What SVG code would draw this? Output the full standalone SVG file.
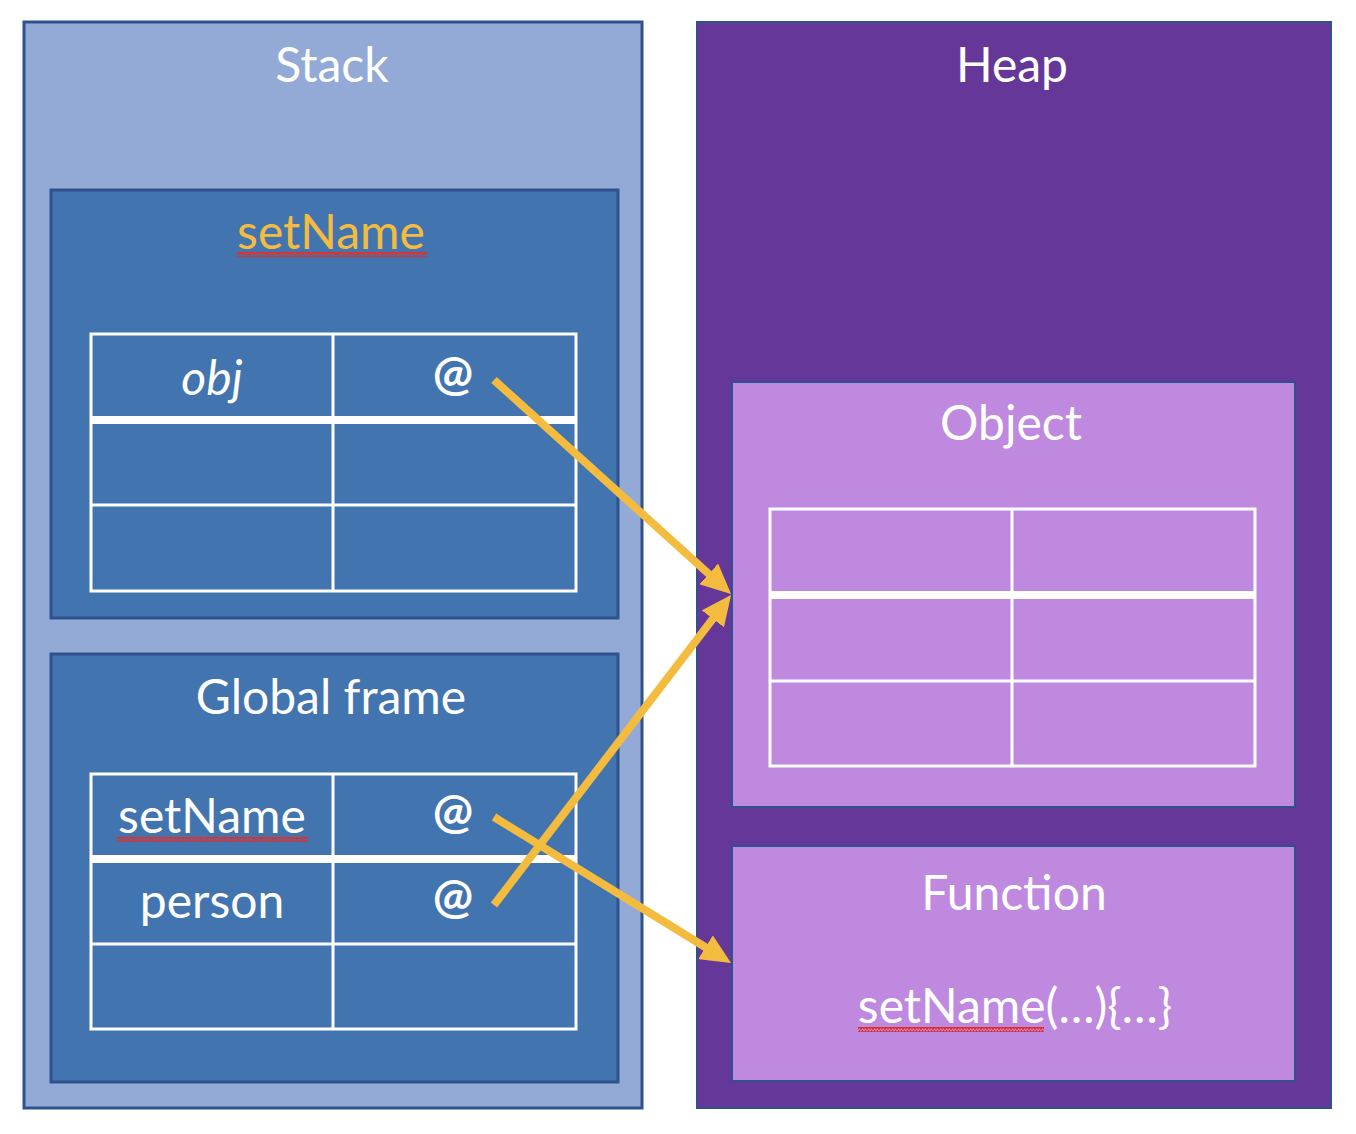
<svg xmlns="http://www.w3.org/2000/svg" width="1356" height="1134" viewBox="0 0 1356 1134">
  <style>
    .lbl { font-family: Lato, "Liberation Sans", sans-serif; font-size: 48px; fill: #ffffff; text-anchor: middle; }
    .frame { fill: #4274B0; stroke: #2F528F; stroke-width: 3; }
    .heapbox { fill: #BE89DF; stroke: #2F528F; stroke-width: 2; }
    .grid { fill: none; stroke: #ffffff; stroke-width: 3; }
    .thick { stroke: #ffffff; stroke-width: 8; }
    .ref { fill: none; stroke: #F4BC3F; stroke-width: 8; marker-end: url(#head); }
    .squig { fill: url(#squiggle); }
  </style>
  <defs>
    <marker id="head" viewBox="0 0 30 28" refX="10" refY="14" markerWidth="30" markerHeight="28" markerUnits="userSpaceOnUse" orient="auto">
      <path d="M0,0 L30,14 L0,28 z" fill="#F4BC3F"/>
    </marker>
    <pattern id="squiggle" width="6" height="5" patternUnits="userSpaceOnUse">
      <polyline points="0,4 1.5,1 3,4 4.5,1 6,4" fill="none" stroke="#E0302A" stroke-width="1.7"/>
    </pattern>
  </defs>

  <!-- Stack column -->
  <g id="stack">
    <rect x="24" y="22" width="618" height="1086" fill="#93AAD7" stroke="#2F528F" stroke-width="3"/>
    <text class="lbl" x="332" y="82">Stack</text>
  </g>

  <!-- Heap column -->
  <g id="heap">
    <rect x="697" y="22" width="634" height="1086" fill="#653799" stroke="#2F528F" stroke-width="2"/>
    <text class="lbl" x="1012" y="82">Heap</text>
  </g>

  <!-- setName call frame -->
  <g id="frame-setName">
    <rect class="frame" x="51" y="190" width="567" height="428"/>
    <text class="lbl" x="331" y="249" style="fill:#F4BC3F">setName</text>
    <rect class="squig" x="237" y="252" width="190" height="5"/>
    <rect class="grid" x="91" y="334" width="485" height="257"/>
    <line class="grid" x1="333" y1="334" x2="333" y2="591"/>
    <line class="thick" x1="91" y1="420" x2="576" y2="420"/>
    <line class="grid" x1="91" y1="505" x2="576" y2="505"/>
    <text class="lbl" x="212" y="395" font-style="italic">obj</text>
    <text class="lbl" x="453" y="390" font-weight="bold">@</text>
  </g>

  <!-- Global frame -->
  <g id="frame-global">
    <rect class="frame" x="51" y="654" width="567" height="428"/>
    <text class="lbl" x="331" y="714">Global frame</text>
    <rect class="grid" x="91" y="774" width="485" height="255"/>
    <line class="grid" x1="333" y1="774" x2="333" y2="1029"/>
    <line class="thick" x1="91" y1="859" x2="576" y2="859"/>
    <line class="grid" x1="91" y1="944" x2="576" y2="944"/>
    <text class="lbl" x="212" y="833">setName</text>
    <rect class="squig" x="117" y="837" width="191" height="5"/>
    <text class="lbl" x="212" y="918">person</text>
    <text class="lbl" x="453" y="828" font-weight="bold">@</text>
    <text class="lbl" x="453" y="913" font-weight="bold">@</text>
  </g>

  <!-- Object in the heap -->
  <g id="object">
    <rect class="heapbox" x="732" y="382" width="563" height="425"/>
    <text class="lbl" x="1011" y="440">Object</text>
    <rect class="grid" x="770" y="509" width="485" height="257"/>
    <line class="grid" x1="1012" y1="509" x2="1012" y2="766"/>
    <line class="thick" x1="770" y1="595" x2="1255" y2="595"/>
    <line class="grid" x1="770" y1="681" x2="1255" y2="681"/>
  </g>

  <!-- Function in the heap -->
  <g id="function">
    <rect class="heapbox" x="732" y="846" width="563" height="235"/>
    <text class="lbl" x="1014" y="910">Function</text>
    <text class="lbl" x="1015" y="1023">setName(…){…}</text>
    <rect class="squig" x="858" y="1027" width="186" height="5"/>
  </g>

  <!-- References -->
  <g id="connectors">
    <line class="ref" x1="494" y1="380" x2="716.2" y2="580.6"/>
    <line class="ref" x1="494" y1="905" x2="718.9" y2="610.9"/>
    <line class="ref" x1="494" y1="817" x2="714" y2="952.5"/>
  </g>
</svg>
